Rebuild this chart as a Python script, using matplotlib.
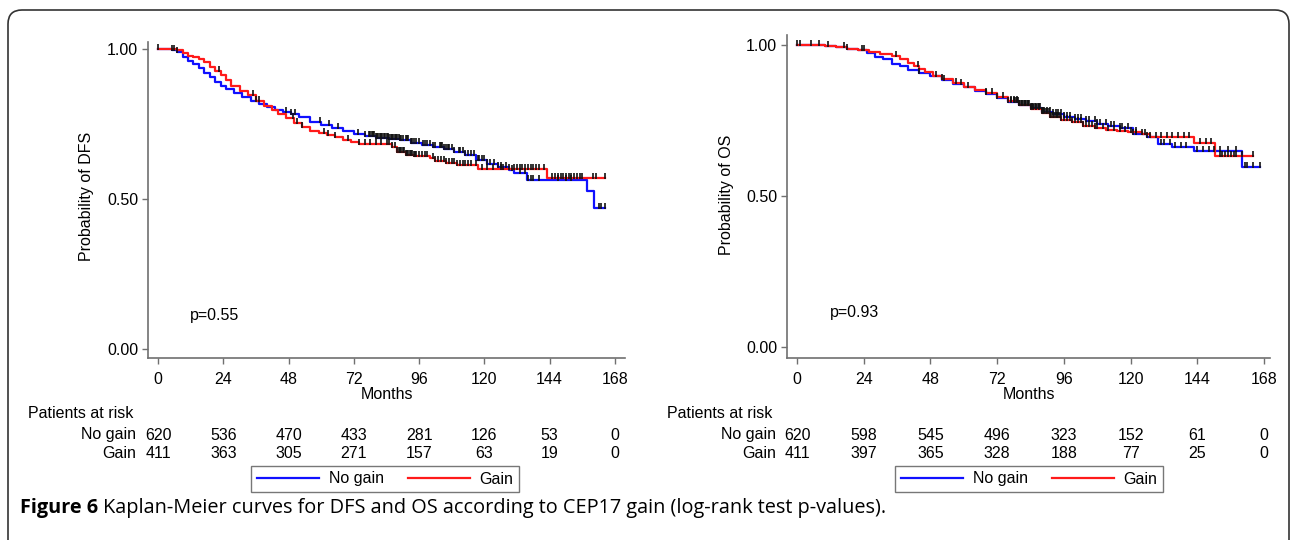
import matplotlib
matplotlib.use("Agg")
import matplotlib.pyplot as plt
import matplotlib.transforms as mtransforms
from matplotlib.patches import FancyBboxPatch
import numpy as np

plt.rcParams['font.family'] = ['Liberation Sans', 'DejaVu Sans']

# ---- data --------------------------------------------------------------
months_ticks = [0, 24, 48, 72, 96, 120, 144, 168]

# DFS, no gain (blue)
dfs_nogain_t = [0, 5, 7, 9, 11, 13, 15, 17, 19, 21, 23, 25, 28, 31, 34, 37, 40, 43, 46, 49,
                52, 56, 60, 64, 68, 72, 76, 80, 85, 89, 93, 97, 101, 105, 109, 113, 117, 121,
                125, 129, 131, 135.5, 157.6, 160.3]
dfs_nogain_s = [1.0, 0.995, 0.99, 0.972, 0.96, 0.95, 0.935, 0.92, 0.905, 0.89, 0.875, 0.865,
                0.852, 0.84, 0.828, 0.815, 0.805, 0.798, 0.789, 0.782, 0.772, 0.758, 0.748,
                0.737, 0.726, 0.716, 0.709, 0.703, 0.699, 0.695, 0.688, 0.68, 0.672, 0.665,
                0.655, 0.645, 0.63, 0.617, 0.608, 0.595, 0.585, 0.563, 0.527, 0.471]
dfs_nogain_end = 164.3
dfs_nogain_cens = [5, 6, 7, 47, 49, 50.5, 59.5, 63, 66, 73.5, 76, 77.5, 78, 78.5, 79, 79.5, 80,
                   80.5, 81, 81.5, 82, 82.5, 83, 83.5, 84, 84.5, 85, 85.5, 86, 86.5, 87, 87.5,
                   88, 88.5, 89, 89.5, 90, 91, 91.5, 92, 93, 93.5, 94, 95, 96, 97.5, 98, 99,
                   100, 101, 102, 103.5, 104, 104.5, 105, 106, 106.5, 107, 108, 109, 110.5,
                   111, 112, 113, 114, 115, 116, 117.5, 118, 119, 120, 121, 122, 123.5, 125,
                   126, 128, 130, 133, 135, 136, 137, 138, 140, 147, 150, 152, 162, 163, 164.3]

# DFS, gain (red)
dfs_gain_t = [0, 7, 9, 11, 13, 15, 17, 19, 21, 23, 25, 27, 30, 33, 36, 39, 42, 44, 47, 50, 53,
              56, 59, 62, 65, 68, 71, 74, 86, 88, 91, 94, 100, 102, 106, 110, 117.8, 143]
dfs_gain_s = [1.0, 0.995, 0.985, 0.978, 0.972, 0.965, 0.958, 0.94, 0.925, 0.913, 0.895, 0.878,
              0.86, 0.845, 0.825, 0.81, 0.795, 0.782, 0.77, 0.753, 0.74, 0.727, 0.72, 0.712,
              0.705, 0.697, 0.69, 0.682, 0.672, 0.658, 0.648, 0.643, 0.636, 0.628, 0.619,
              0.612, 0.599, 0.571]
dfs_gain_end = 164.3
dfs_gain_cens = [0, 22.5, 35, 36, 37, 49.5, 51, 53, 61, 62.5, 65, 70, 74, 76, 78, 80, 82, 84,
                 85, 86, 87, 88, 88.5, 89, 89.5, 90, 90.5, 91, 91.5, 92, 92.5, 93, 93.5, 94,
                 94.5, 95, 96, 97, 98, 99, 101, 102, 103, 104, 105, 106, 107, 108, 109, 110,
                 111, 112, 113, 114, 115, 117, 119, 121, 123, 126, 127, 129, 131, 132, 133,
                 134, 135, 136, 137, 138, 139, 140, 142, 145, 146, 147, 148, 149, 150, 151,
                 152, 153, 154, 155, 156, 160, 161, 164.3]

# OS, no gain (blue)
os_nogain_t = [0, 10, 14, 18, 22, 25, 28, 31, 34, 37, 40, 44, 48, 52, 56, 60, 64, 68, 72, 76,
               80, 84, 88, 92, 96, 100, 104, 108, 112, 116, 121, 126, 130, 134.8, 142.6, 160]
os_nogain_s = [1.0, 0.997, 0.993, 0.988, 0.982, 0.975, 0.96, 0.952, 0.937, 0.93, 0.918, 0.908,
               0.897, 0.883, 0.872, 0.862, 0.848, 0.837, 0.825, 0.81, 0.8, 0.79, 0.778, 0.77,
               0.762, 0.756, 0.748, 0.74, 0.732, 0.726, 0.705, 0.695, 0.672, 0.663, 0.649,
               0.595]
os_nogain_end = 166.5
os_nogain_cens = [1, 5, 8, 17, 24, 44, 53, 59, 68, 72, 76, 77, 78, 78.5, 79, 79.5, 80, 80.5, 81,
                  81.5, 82, 82.5, 83, 83.5, 84, 84.5, 85, 85.5, 86, 86.5, 87, 87.5, 88, 88.5,
                  89, 90, 91, 92, 93, 94, 95, 96, 97, 98, 100, 101, 102, 104, 105, 107, 108,
                  109, 111, 113, 114, 116, 117, 119, 121, 122, 124, 126, 131, 132, 134, 136,
                  138, 140, 144, 146, 148, 150, 152, 155, 158, 161, 162, 164, 166.5]

# OS, gain (red)
os_gain_t = [0, 10, 14, 18, 22, 26, 30, 34, 37, 40, 42, 44, 46, 49, 52, 56, 60, 64, 68, 72, 76,
             80, 84, 88, 91, 95, 99, 103, 107, 111, 115, 119, 124, 127, 142.6, 150.4]
os_gain_s = [1.0, 0.997, 0.994, 0.988, 0.982, 0.976, 0.97, 0.962, 0.952, 0.94, 0.93, 0.922,
             0.91, 0.897, 0.888, 0.873, 0.862, 0.85, 0.84, 0.828, 0.815, 0.8, 0.788, 0.776,
             0.76, 0.752, 0.746, 0.732, 0.726, 0.72, 0.716, 0.712, 0.706, 0.697, 0.675, 0.632]
os_gain_end = 164.1
os_gain_cens = [0, 11, 18, 23.5, 35.5, 43.5, 50, 52, 57, 61.5, 68, 70, 74, 77, 78, 79, 80, 81,
                82, 83, 84, 85, 86, 87, 88, 88.5, 89, 89.5, 90, 90.5, 91, 91.5, 92, 92.5, 93,
                93.5, 94, 94.5, 95, 96, 97, 98, 99, 100, 101, 102, 103, 104, 105, 106, 107,
                108, 110, 112, 114, 116, 118, 120, 122, 125, 127, 129, 131, 133, 135, 137,
                139, 141, 145, 147, 149, 152, 153, 154, 155, 156, 157, 158, 160, 164.1]

dfs_risk_nogain = [620, 536, 470, 433, 281, 126, 53, 0]
dfs_risk_gain = [411, 363, 305, 271, 157, 63, 19, 0]
os_risk_nogain = [620, 598, 545, 496, 323, 152, 61, 0]
os_risk_gain = [411, 397, 365, 328, 188, 77, 25, 0]

BLUE = "#1010ff"
RED = "#ff1a1a"
AXC = "#707070"
FS = 11.5

# censor mark: short vertical bar standing on the curve
CENS_MARK = [(0, -0.2), (0, 1)]


def km_step(ax, t, s, end, color):
    tt = list(t) + [end]
    ss = list(s) + [s[-1]]
    ax.step(tt, ss, where="post", color=color, lw=1.6, zorder=3)


def km_censor(ax, t, s, cens):
    idx = np.searchsorted(np.array(t), np.array(cens), side="right") - 1
    yy = np.array(s)[idx]
    ax.plot(cens, yy, linestyle="none", marker=CENS_MARK, markersize=7,
            markeredgewidth=1.2, color="#111111", zorder=4)


def setup_axes(ax, ylabel, ylab_pos, xlim, ylim):
    ax.set_xlim(*xlim)
    ax.set_ylim(*ylim)
    for sp in ["top", "right"]:
        ax.spines[sp].set_visible(False)
    for sp in ["left", "bottom"]:
        ax.spines[sp].set_color(AXC)
        ax.spines[sp].set_linewidth(1.2)
    ax.set_xticks(months_ticks)
    ax.set_yticks([0, 0.5, 1.0])
    ax.set_yticklabels(["0.00", "0.50", "1.00"])
    ax.tick_params(axis="both", direction="out", length=4, width=1, color=AXC,
                   labelsize=FS, pad=3)
    ax.tick_params(axis="x", pad=6)
    ax.set_xlabel("Months", fontsize=FS, labelpad=0)
    ax.set_ylabel(ylabel, fontsize=FS)
    ax.yaxis.set_label_coords(*ylab_pos)


def risk_table(fig, ax, nogain, gain, label_x, title_x):
    tr = mtransforms.blended_transform_factory(ax.transData, fig.transFigure)
    fig.text(title_x, 1 - 414 / 540, "Patients at risk", fontsize=FS, va="center")
    fig.text(label_x, 1 - 435 / 540, "No gain", fontsize=FS, va="center", ha="right")
    fig.text(label_x, 1 - 453 / 540, "Gain", fontsize=FS, va="center", ha="right")
    for m, a, b in zip(months_ticks, nogain, gain):
        ax.text(m, 1 - 435 / 540, str(a), transform=tr, fontsize=FS, ha="center",
                va="center", clip_on=False)
        ax.text(m, 1 - 453 / 540, str(b), transform=tr, fontsize=FS, ha="center",
                va="center", clip_on=False)


fig = plt.figure(figsize=(12.92, 5.40), dpi=100)

# ---- DFS panel -----------------------------------------------------------
ax1 = fig.add_axes([148 / 1292, 1 - 358 / 540, 477 / 1292, 316 / 540])
km_step(ax1, dfs_nogain_t, dfs_nogain_s, dfs_nogain_end, BLUE)
km_step(ax1, dfs_gain_t, dfs_gain_s, dfs_gain_end, RED)
km_censor(ax1, dfs_nogain_t, dfs_nogain_s, dfs_nogain_cens)
km_censor(ax1, dfs_gain_t, dfs_gain_s, dfs_gain_cens)
setup_axes(ax1, "Probability of DFS", (-0.113, 0.51), (-3.7, 171.7), (-0.03, 1.023))
ax1.text(11.8, 0.113, "p=0.55", fontsize=FS, va="center")
risk_table(fig, ax1, dfs_risk_nogain, dfs_risk_gain, 136 / 1292, 28 / 1292)

# ---- OS panel ------------------------------------------------------------
ax2 = fig.add_axes([787 / 1292, 1 - 358 / 540, 483 / 1292, 323 / 540])
km_step(ax2, os_nogain_t, os_nogain_s, os_nogain_end, BLUE)
km_step(ax2, os_gain_t, os_gain_s, os_gain_end, RED)
km_censor(ax2, os_nogain_t, os_nogain_s, os_nogain_cens)
km_censor(ax2, os_gain_t, os_gain_s, os_gain_cens)
setup_axes(ax2, "Probability of OS", (-0.11, 0.505), (-3.6, 170.1), (-0.036, 1.033))
ax2.text(11.9, 0.116, "p=0.93", fontsize=FS, va="center")
risk_table(fig, ax2, os_risk_nogain, os_risk_gain, 776 / 1292, 667 / 1292)

# ---- legends ---------------------------------------------------------------
for ax, cx in [(ax1, 385 / 1292), (ax2, 1029 / 1292)]:
    h1, = ax.plot([], [], color=BLUE, lw=1.6)
    h2, = ax.plot([], [], color=RED, lw=1.6)
    leg = ax.legend([h1, h2], ["No gain", "Gain"], ncol=2, loc="center",
                    bbox_to_anchor=(cx, 1 - 479 / 540), bbox_transform=fig.transFigure,
                    fontsize=FS, frameon=True, fancybox=False, handlelength=3.9,
                    handletextpad=0.6, columnspacing=1.5, borderpad=0.35)
    leg.get_frame().set_edgecolor("#555555")
    leg.get_frame().set_linewidth(1.0)

# ---- border and caption ----------------------------------------------------
border = FancyBboxPatch((8, -30), 1281, 560, boxstyle="round,pad=0,rounding_size=14",
                        transform=mtransforms.IdentityTransform(), fill=False,
                        edgecolor="#333333", linewidth=1.2)
fig.patches.append(border)

cap_y = 1 - 508 / 540
t1 = fig.text(20 / 1292, cap_y, "Figure 6", fontsize=14.3, fontweight="bold",
              family="Open Sans", va="center")
fig.canvas.draw()
bb = t1.get_window_extent(renderer=fig.canvas.get_renderer())
fig.text((bb.x1 + 5) / 1292, cap_y,
         "Kaplan-Meier curves for DFS and OS according to CEP17 gain (log-rank test p-values).",
         fontsize=14.3, family="Open Sans", va="center")

fig.savefig("out.png", dpi=100)
